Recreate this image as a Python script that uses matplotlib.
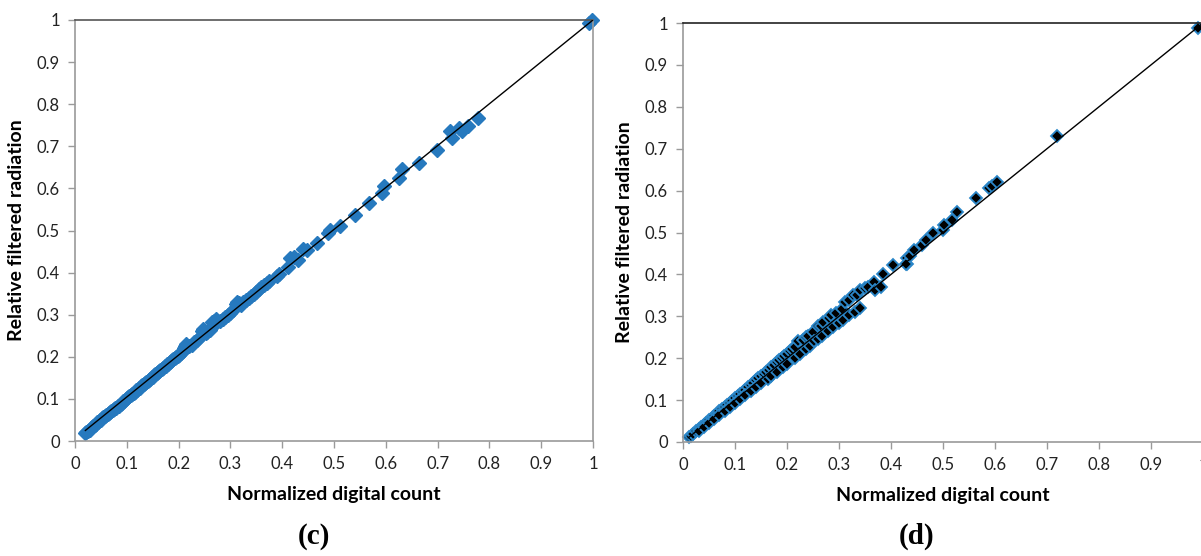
import matplotlib
matplotlib.use("Agg")
import matplotlib.pyplot as plt

# ---------------- data ----------------
c_x = [0.020, 0.022, 0.025, 0.028, 0.030, 0.033, 0.035, 0.038, 0.040, 0.043, 0.045, 0.048,
       0.050, 0.053, 0.055, 0.058, 0.060, 0.063, 0.065, 0.068, 0.070, 0.073, 0.075, 0.078,
       0.080, 0.083, 0.085, 0.088, 0.090, 0.093, 0.095, 0.098, 0.100, 0.103, 0.105, 0.108,
       0.110, 0.113, 0.115, 0.118, 0.120, 0.123, 0.125, 0.128, 0.130, 0.133, 0.135, 0.138,
       0.140, 0.143, 0.145, 0.148, 0.150, 0.153, 0.155, 0.158, 0.160, 0.163, 0.165, 0.168,
       0.170, 0.173, 0.175, 0.178, 0.180, 0.183, 0.185, 0.188, 0.190, 0.193, 0.195, 0.198,
       0.200, 0.203, 0.205, 0.208, 0.210, 0.213, 0.215, 0.220, 0.225, 0.230, 0.235, 0.240,
       0.245, 0.248, 0.252, 0.255, 0.260, 0.265, 0.268, 0.272, 0.275, 0.280, 0.285, 0.290,
       0.295, 0.300, 0.305, 0.310, 0.313, 0.316, 0.320, 0.325, 0.330, 0.335, 0.340, 0.345,
       0.350, 0.355, 0.360, 0.365, 0.370, 0.375, 0.390, 0.393,
       0.411, 0.415, 0.422, 0.430, 0.441, 0.448, 0.467, 0.489, 0.493, 0.511, 0.541, 0.567,
       0.593, 0.596, 0.626, 0.632, 0.665, 0.699, 0.724, 0.728, 0.741, 0.748, 0.759, 0.778,
       0.993, 0.998]
c_y = [0.018, 0.022, 0.024, 0.027, 0.030, 0.033, 0.036, 0.039, 0.041, 0.044, 0.046, 0.049,
       0.051, 0.054, 0.056, 0.059, 0.061, 0.064, 0.066, 0.069, 0.071, 0.074, 0.076, 0.079,
       0.078, 0.084, 0.082, 0.089, 0.091, 0.094, 0.096, 0.099, 0.101, 0.104, 0.106, 0.109,
       0.112, 0.115, 0.117, 0.120, 0.122, 0.125, 0.127, 0.130, 0.132, 0.135, 0.137, 0.140,
       0.143, 0.146, 0.148, 0.151, 0.153, 0.156, 0.158, 0.161, 0.163, 0.166, 0.168, 0.171,
       0.174, 0.177, 0.179, 0.182, 0.184, 0.187, 0.189, 0.192, 0.194, 0.198, 0.200, 0.203,
       0.205, 0.208, 0.210, 0.213, 0.222, 0.226, 0.230, 0.225, 0.229, 0.234, 0.239, 0.244,
       0.262, 0.266, 0.256, 0.260, 0.264, 0.282, 0.286, 0.290, 0.283, 0.285, 0.290, 0.294,
       0.300, 0.305, 0.310, 0.325, 0.330, 0.328, 0.324, 0.329, 0.334, 0.339, 0.344, 0.349,
       0.355, 0.360, 0.365, 0.370, 0.375, 0.380, 0.392, 0.396,
       0.414, 0.434, 0.438, 0.430, 0.456, 0.454, 0.470, 0.494, 0.502, 0.511, 0.537, 0.565,
       0.590, 0.606, 0.625, 0.646, 0.660, 0.692, 0.737, 0.720, 0.744, 0.736, 0.748, 0.767,
       0.992, 1.000]
c_line_x = [0.020, 1.0]
c_line_y = [0.025, 1.0]

d_x = [0.012, 0.015, 0.020, 0.025, 0.030, 0.035, 0.040, 0.045, 0.050, 0.055, 0.060, 0.065,
       0.070, 0.075, 0.080, 0.085, 0.090, 0.095, 0.100, 0.105, 0.110, 0.115, 0.120, 0.125,
       0.130, 0.135, 0.140, 0.145, 0.150, 0.155, 0.160, 0.165, 0.170, 0.175, 0.180, 0.185,
       0.190, 0.195, 0.200, 0.205, 0.210, 0.215, 0.222, 0.230, 0.237, 0.241, 0.250, 0.259,
       0.265, 0.270, 0.280, 0.285, 0.295, 0.305, 0.311, 0.320, 0.326, 0.335, 0.341, 0.350,
       0.356, 0.367, 0.385, 0.404, 0.430,
       0.030, 0.040, 0.050, 0.060, 0.070, 0.080, 0.090, 0.100, 0.110, 0.120, 0.130, 0.140,
       0.150, 0.163, 0.170, 0.181, 0.193, 0.200, 0.215, 0.225, 0.237, 0.245, 0.252, 0.260,
       0.267, 0.278, 0.289, 0.300, 0.307, 0.319, 0.330, 0.341, 0.369, 0.381, 0.430,
       0.428, 0.436, 0.444, 0.459, 0.467, 0.480, 0.500, 0.501, 0.517, 0.526, 0.564, 0.589,
       0.594, 0.604, 0.719, 0.991]
d_y = [0.012, 0.015, 0.020, 0.026, 0.031, 0.036, 0.041, 0.046, 0.052, 0.057, 0.062, 0.067,
       0.073, 0.078, 0.083, 0.088, 0.094, 0.099, 0.104, 0.110, 0.115, 0.120, 0.125, 0.131,
       0.136, 0.141, 0.147, 0.152, 0.157, 0.163, 0.168, 0.173, 0.178, 0.184, 0.190, 0.195,
       0.200, 0.206, 0.211, 0.216, 0.222, 0.227, 0.242, 0.243, 0.250, 0.254, 0.263, 0.278,
       0.276, 0.286, 0.297, 0.302, 0.308, 0.318, 0.334, 0.338, 0.350, 0.352, 0.362, 0.367,
       0.370, 0.382, 0.402, 0.422, 0.438,
       0.027, 0.036, 0.045, 0.055, 0.064, 0.074, 0.083, 0.093, 0.102, 0.112, 0.121, 0.131,
       0.140, 0.150, 0.158, 0.168, 0.180, 0.187, 0.200, 0.210, 0.222, 0.230, 0.240, 0.245,
       0.254, 0.265, 0.275, 0.285, 0.292, 0.302, 0.310, 0.320, 0.362, 0.370, 0.424,
       0.426, 0.443, 0.459, 0.471, 0.483, 0.498, 0.505, 0.517, 0.530, 0.550, 0.583, 0.607,
       0.612, 0.620, 0.731, 0.989]
d_line_x = [0.010, 1.0]
d_line_y = [0.010, 1.0]

ticks = [0, 0.1, 0.2, 0.3, 0.4, 0.5, 0.6, 0.7, 0.8, 0.9, 1]
tick_labels = ["0", "0.1", "0.2", "0.3", "0.4", "0.5", "0.6", "0.7", "0.8", "0.9", "1"]
xlabel = "Normalized digital count"
ylabel = "Relative filtered radiation"
panel_labels = ["(c)", "(d)"]

# ---------------- figure ----------------
W, H = 1201, 556
fig = plt.figure(figsize=(W / 100, H / 100), dpi=100)
font = ["Lato", "DejaVu Sans"]

def px_axes(x0, x1, y_top, y_bottom):
    return fig.add_axes([x0 / W, 1 - y_bottom / H, (x1 - x0) / W, (y_bottom - y_top) / H])

ax_c = px_axes(75, 593, 20, 441)
ax_d = px_axes(683, 1203, 23, 442)

def style(ax, top_color):
    ax.set_xlim(0, 1)
    ax.set_ylim(0, 1)
    ax.set_xticks(ticks)
    ax.set_yticks(ticks)
    ax.set_xticklabels(tick_labels, family=font, fontsize=12, color="#222222")
    ax.set_yticklabels(tick_labels, family=font, fontsize=12, color="#222222")
    for s in ["left", "bottom", "right"]:
        ax.spines[s].set_color("#9a9a9a")
        ax.spines[s].set_linewidth(1.2)
    ax.spines["top"].set_color(top_color)
    ax.spines["top"].set_linewidth(1.2)
    ax.tick_params(direction="out", length=5, width=1, color="#9a9a9a", pad=6)
    ax.set_xlabel(xlabel, family=font, fontsize=14, fontweight="bold", labelpad=10)
    ax.set_ylabel(ylabel, family=font, fontsize=14, fontweight="bold", labelpad=8)

# panel c
ax_c.plot(c_line_x, c_line_y, color="black", lw=1, zorder=3)
ax_c.plot(c_x, c_y, linestyle="none", marker="D", markersize=7.5,
          markerfacecolor="#2679BE", markeredgecolor="#2679BE", zorder=2, clip_on=False)
style(ax_c, "#555555")

# panel d
ax_d.plot(d_line_x, d_line_y, color="black", lw=1, zorder=3)
ax_d.plot(d_x, d_y, linestyle="none", marker="D", markersize=6.5,
          markerfacecolor="black", markeredgecolor="#2A86C8", markeredgewidth=1.3,
          zorder=2, clip_on=False)
style(ax_d, "#222222")

fig.text(314 / W, 1 - 536 / H, panel_labels[0], family="Liberation Serif", fontweight="bold",
         fontsize=21, ha="center", va="center")
fig.text(917 / W, 1 - 536 / H, panel_labels[1], family="Liberation Serif", fontweight="bold",
         fontsize=21, ha="center", va="center")

fig.savefig("out.png", dpi=100)
